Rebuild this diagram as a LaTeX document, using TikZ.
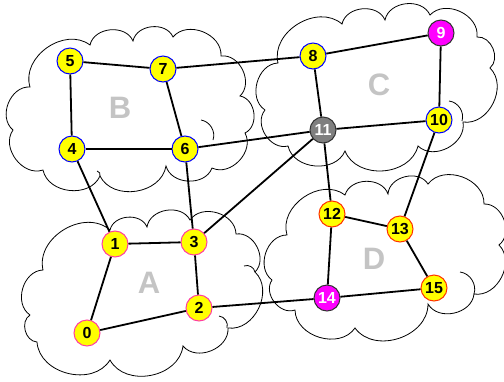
\documentclass[tikz,border=0pt]{standalone}
\usepackage{fontspec}
\setmainfont{Liberation Sans}
\begin{document}
\begin{tikzpicture}[x=1pt,y=-1pt]
\definecolor{pinkA}{HTML}{FF3FA0}
\definecolor{redD}{HTML}{FF3300}
\definecolor{lbl}{HTML}{C4C4C4}
\definecolor{magn}{HTML}{FF00FF}
\definecolor{yel}{HTML}{FFFF00}
\definecolor{gr}{HTML}{7F7F7F}
\tikzset{
 nd/.style={circle, minimum size=26pt, inner sep=0pt, line width=1pt, font=\fontsize{16}{16}\selectfont\bfseries},
 ybl/.style={nd, fill=yel, draw=blue},
 ypk/.style={nd, fill=yel, draw=pinkA},
 yrd/.style={nd, fill=yel, draw=redD},
 mag/.style={nd, fill=magn, draw=black!80, text=white},
 gry/.style={nd, fill=gr, draw=black!80, text=white},
 edge/.style={line width=1.8pt},
 cloudline/.style={line width=0.8pt},
 puff/.style={bend left=72, looseness=1.1},
 ipuff/.style={bend left=50},
 region/.style={text=lbl, font=\fontsize{31}{31}\selectfont\bfseries},
}
\useasboundingbox (0,0) rectangle (504,381);
% cloud B
\draw[cloudline] (13,130) to[puff] (30,87) to[puff] (90,45) to[puff] (133,41) to[puff] (173,37)
  to[puff] (221,56) to[puff] (240,96) to[puff] (245,133) to[puff] (212,168) to[puff] (166,166)
  to[puff] (100,176) to[puff] (43,170) to[puff] (13,130);
\draw[cloudline] (201,120) to[ipuff] (213,140);
\draw[cloudline] (97,171) to[ipuff] (100,176);
% cloud C
\draw[cloudline] (265,110) to[puff] (278,63) to[puff] (342,24) to[puff] (385,20) to[puff] (430,15)
  to[puff] (477,37) to[puff] (490,68) to[puff] (463,122) to[puff] (418,146) to[puff] (345,151)
  to[puff] (288,146) to[puff] (265,110);
\draw[cloudline] (449,101) to[ipuff] (462,121);
% cloud A
\draw[cloudline] (30,315) to[puff] (43,270) to[puff] (110,230) to[puff] (147,227) to[puff] (190,220)
  to[puff] (236,234) to[puff] (255,272) to[puff] (228,328) to[puff] (183,346) to[puff] (110,360)
  to[puff] (37,342) to[puff] (30,315);
\draw[cloudline] (219,316) to[ipuff] (227,328);
\draw[cloudline] (244,266) to[ipuff] (255,272);
% cloud D
\draw[cloudline] (272,280) to[puff] (287,235) to[puff] (345,195) to[puff] (388,194) to[puff] (428,184)
  to[puff] (484,204) to[puff] (499,245) to[puff] (474,294) to[puff] (428,304) to[puff] (355,328)
  to[puff] (295,310) to[puff] (272,280);
\draw[cloudline] (460,272) to[ipuff] (474,294);
% region labels
\node[region] (lA) at (149,283) {A};
\node[region] (lB) at (120,108) {B};
\node[region] (lC) at (379,85) {C};
\node[region] (lD) at (374,259) {D};
% nodes
\node[ypk] (n0) at (87,333) {0};
\node[ypk] (n1) at (115,244) {1};
\node[ypk] (n2) at (199,308) {2};
\node[ypk] (n3) at (194,242) {3};
\node[ybl] (n4) at (72,149) {4};
\node[ybl] (n5) at (70,61) {5};
\node[ybl] (n6) at (185,149) {6};
\node[ybl] (n7) at (163,69) {7};
\node[ybl] (n8) at (313,56) {8};
\node[mag] (n9) at (441,33) {9};
\node[ybl] (n10) at (439,120) {10};
\node[gry] (n11) at (323,130) {11};
\node[yrd] (n12) at (332,214) {12};
\node[yrd] (n13) at (400,229) {13};
\node[mag] (n14) at (327,298) {14};
\node[yrd] (n15) at (434,288) {15};
% edges
\draw[edge] (n5) -- (n7);
\draw[edge] (n7) -- (n8);
\draw[edge] (n8) -- (n9);
\draw[edge] (n5) -- (n4);
\draw[edge] (n4) -- (n6);
\draw[edge] (n7) -- (n6);
\draw[edge] (n6) -- (n11);
\draw[edge] (n11) -- (n10);
\draw[edge] (n9) -- (n10);
\draw[edge] (n8) -- (n11);
\draw[edge] (n4) -- (n1);
\draw[edge] (n6) -- (n3);
\draw[edge] (n11) -- (n3);
\draw[edge] (n11) -- (n12);
\draw[edge] (n10) -- (n13);
\draw[edge] (n1) -- (n3);
\draw[edge] (n1) -- (n0);
\draw[edge] (n3) -- (n2);
\draw[edge] (n0) -- (n2);
\draw[edge] (n2) -- (n14);
\draw[edge] (n12) -- (n13);
\draw[edge] (n12) -- (n14);
\draw[edge] (n13) -- (n15);
\draw[edge] (n14) -- (n15);
\end{tikzpicture}
\end{document}
